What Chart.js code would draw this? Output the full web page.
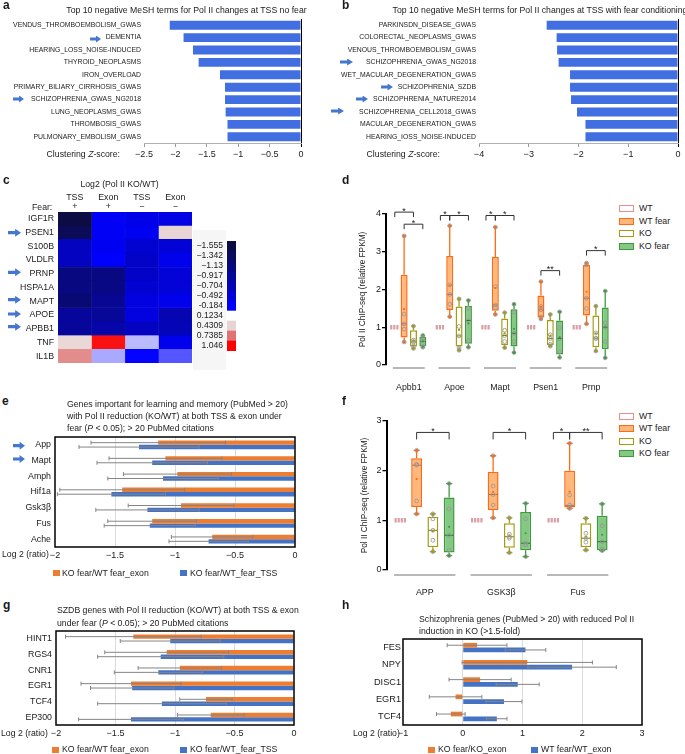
<!DOCTYPE html>
<html><head><meta charset="utf-8"><title>Figure</title>
<script src="https://cdn.jsdelivr.net/npm/chart.js@4.4.1/dist/chart.umd.min.js"></script>
<style>
html,body{margin:0;padding:0;background:#fff}
body{position:relative;width:685px;height:754px;overflow:hidden;font-family:"Liberation Sans",Arial,Helvetica,sans-serif;color:#1a1a1a}
canvas{position:absolute}
.t{position:absolute;white-space:nowrap}
.arr{position:absolute;background:#4677d0;clip-path:polygon(0 30%,55% 30%,55% 0,100% 50%,55% 100%,55% 70%,0 70%)}
.sq{position:absolute;box-sizing:border-box}
</style></head><body>
<script>
// ================= DATA =================
// Panel a
const aTerms = ['VENDUS_THROMBOEMBOLISM_GWAS','DEMENTIA','HEARING_LOSS_NOISE-INDUCED','THYROID_NEOPLASMS','IRON_OVERLOAD','PRIMARY_BILIARY_CIRRHOSIS_GWAS','SCHIZOPHRENIA_GWAS_NG2018','LUNG_NEOPLASMS_GWAS','THROMBOSIS_GWAS','PULMONARY_EMBOLISM_GWAS'];
const aZ = [-2.09,-1.87,-1.72,-1.63,-1.29,-1.21,-1.21,-1.20,-1.17,-1.17];
const aTicks = [-2.5,-2,-1.5,-1,-0.5,0];
// Panel b
const bTerms = ['PARKINSDN_DISEASE_GWAS','COLORECTAL_NEOPLASMS_GWAS','VENOUS_THROMBOEMBOLISM_GWAS','SCHIZOPHRENIA_GWAS_NG2018','WET_MACULAR_DEGENERATION_GWAS','SCHIZOPHRENIA_SZDB','SCHIZOPHRENIA_NATURE2014','SCHIZOPHRENIA_CELL2018_GWAS','MACULAR_DEGENERATION_GWAS','HEARING_IOSS_NOISE-INDUCED'];
const bZ = [-2.64,-2.44,-2.43,-2.40,-2.17,-2.17,-2.15,-2.03,-1.86,-1.86];
const bTicks = [-4,-3,-2,-1,0];
// Panel c (heatmap, log2 Pol II KO/WT)
const cGenes = ['IGF1R','PSEN1','S100B','VLDLR','PRNP','HSPA1A','MAPT','APOE','APBB1','TNF','IL1B'];
const cColumns = [['TSS','+'],['Exon','+'],['TSS','\u2212'],['Exon','\u2212']];
const cTssFear    = [-1.55,-1.40,-0.64,-0.64,-1.10,-1.10,-1.20,-0.90,-0.92, 0.40, 0.66];
const cExonFear   = [-0.25,-0.25,-0.28,-0.20,-1.10,-1.07,-0.96,-0.93,-0.80, 1.00, 0.02];
const cTssNoFear  = [-0.35,-0.28,-0.52,-0.58,-0.58,-0.52,-0.40,-0.40,-0.64, 0.04,-0.18];
const cExonNoFear = [-0.38, 0.43,-0.47,-0.32,-0.47,-0.47,-0.32,-0.75,-0.70,-0.32,-0.08];
const cScaleLabels = ['\u22121.555','\u22121.342','\u22121.13','\u22120.917','\u22120.704','\u22120.492','-0.184','0.1234','0.4309','0.7385','1.046'];
// Panel d  (box = [min, q1, median, q3, max])
const dGenes = ['Apbb1','Apoe','Mapt','Psen1','Prnp'];
const dWtBox = [[1,1,1,1,1],[1,1,1,1,1],[1,1,1,1,1],[1,1,1,1,1],[1,1,1,1,1]];
const dWtFearBox = [[0.61,0.73,1.09,2.39,3.42],[1.28,1.46,1.87,2.89,3.69],[1.34,1.44,1.59,2.86,3.65],[1.22,1.26,1.46,1.84,2.21],[1.09,1.31,1.77,2.65,2.70]];
const dWtFearPts = [[3.42,1.35,1.09,0.95,0.61],[3.69,2.12,1.87,1.61,1.28],[3.65,2.08,1.59,1.52,1.34],[2.21,1.55,1.46,1.27,1.22],[2.70,2.65,1.77,1.50,1.09]];
const dWtFearMean = [1.48,2.11,2.04,1.54,1.94];
const dKoBox = [[0.44,0.49,0.61,0.92,1.03],[0.39,0.49,0.77,1.55,1.75],[0.46,0.52,0.78,1.23,1.39],[0.50,0.53,0.70,1.19,1.34],[0.37,0.47,0.71,1.31,1.56]];
const dKoPts = [[1.03,0.66,0.61,0.50,0.44],[1.75,1.02,0.77,0.45,0.39],[1.39,0.92,0.78,0.62,0.46],[1.34,0.80,0.70,0.55,0.50],[1.56,0.85,0.71,0.70,0.37]];
const dKoMean = [0.65,0.93,0.84,0.78,0.84];
const dKoFearBox = [[0.47,0.50,0.62,0.75,0.79],[0.47,0.56,1.18,1.57,1.71],[0.33,0.49,0.84,1.48,1.61],[0.20,0.28,0.70,1.18,1.41],[0.19,0.42,1.00,1.52,1.96]];
const dKoFearPts = [[0.78,0.73,0.65,0.50,0.47],[1.71,1.50,1.18,0.65,0.47],[1.61,1.40,0.84,0.62,0.33],[1.41,0.98,0.70,0.35,0.20],[1.96,1.12,1.00,0.62,0.19]];
const dKoFearMean = [0.63,1.10,0.96,0.73,1.00];
// significance: [category, groupA, groupB, y, label]
const dSig = [[0,0,2,4.05,'*'],[0,1,3,3.73,'*'],[1,0,1,3.96,'*'],[1,1,3,3.96,'*'],[2,0,1,3.96,'*'],[2,1,3,3.96,'*'],[3,1,3,2.50,'**'],[4,1,3,3.03,'*']];
// Panel e
const eGenes = ['App','Mapt','Amph','Hif1a','Gsk3\u03b2','Fus','Ache'];
const eExon = [-1.14,-1.08,-0.98,-1.44,-0.95,-1.19,-0.69];
const eExonErr = [0.56,0.47,0.45,0.52,0.44,0.37,0.34];
const eTss = [-1.30,-1.19,-1.10,-1.53,-1.23,-1.21,-0.72];
const eTssErr = [0.50,0.46,0.46,0.45,0.43,0.38,0.33];
const eTicks = [-2,-1.5,-1,-0.5,0];
// Panel f
const fGenes = ['APP','GSK3\u03b2','Fus'];
const fWtBox = [[1,1,1,1,1],[1,1,1,1,1],[1,1,1,1,1]];
const fWtFearBox = [[1.13,1.27,2.11,2.25,2.41],[1.05,1.21,1.52,1.98,2.30],[1.24,1.26,1.30,2.00,2.55]];
const fWtFearPts = [[2.41,2.13,2.11,1.39,1.13],[2.30,1.69,1.52,1.31,1.05],[2.55,1.51,1.31,1.26,1.24]];
const fWtFearMean = [1.83,1.57,1.58];
const fKoBox = [[0.37,0.46,0.80,1.07,1.13],[0.35,0.45,0.67,0.94,1.05],[0.40,0.46,0.64,0.94,1.04]];
const fKoPts = [[1.13,1.03,0.80,0.60,0.37],[1.05,0.72,0.67,0.64,0.35],[1.04,0.74,0.64,0.56,0.40]];
const fKoMean = [0.78,0.69,0.67];
const fKoFearBox = [[0.29,0.35,0.70,1.46,1.74],[0.27,0.40,0.54,1.17,1.34],[0.39,0.40,0.57,1.09,1.33]];
const fKoFearPts = [[1.74,1.23,0.70,0.40,0.29],[1.34,1.03,0.54,0.50,0.27],[1.33,0.89,0.57,0.42,0.39]];
const fKoFearMean = [0.87,0.74,0.71];
const fSig = [[0,1,3,2.77,'*'],[1,1,3,2.77,'*'],[2,0,1,2.77,'*'],[2,1,3,2.77,'**']];
// Panel g
const gGenes = ['HINT1','RGS4','CNR1','EGR1','TCF4','EP300'];
const gExon = [-1.35,-1.07,-0.96,-1.37,-0.74,-0.70];
const gExonErr = [0.57,0.52,0.35,0.42,0.22,0.28];
const gTss = [-1.04,-1.12,-1.14,-1.36,-1.11,-1.37];
const gTssErr = [0.42,0.53,0.37,0.35,0.54,0.44];
// Panel h
const hGenes = ['FES','NPY','DISC1','EGR1','TCF4'];
const hKo = [0.24,1.08,0.29,-0.12,-0.20];
const hKoErr = [0.50,1.09,0.52,0.44,0.24];
const hWt = [1.05,1.83,0.92,0.69,0.57];
const hWtErr = [0.34,0.74,0.36,0.30,0.17];
const hTicks = [-1,0,1,2,3];

// ================= HELPERS =================
const ORANGE='#ED7D31', BLUE='#4472C4', ZBLUE='#416ee0';
Chart.defaults.font.family='"Liberation Sans", Arial, Helvetica, sans-serif';
Chart.defaults.color='#1a1a1a';
Chart.defaults.animation=false;
Chart.defaults.plugins.legend.display=false;
Chart.defaults.plugins.tooltip.enabled=false;
Chart.defaults.events=[];
const base={responsive:false,maintainAspectRatio:false,devicePixelRatio:1,animation:false};
const noGrid={display:false,drawTicks:false};
const minus=v=>String(v).replace('-','\u2212');
const fixW=w=>s=>{s.width=w;s.paddingTop=0;s.paddingBottom=0;};
const fixH=h=>s=>{s.height=h;s.paddingLeft=0;s.paddingRight=0;};
function mk(x,y,w,h){const c=document.createElement('canvas');c.width=w;c.height=h;c.style.left=x+'px';c.style.top=y+'px';c.style.width=w+'px';c.style.height=h+'px';document.body.appendChild(c);return c;}
function T(x,y,html,o={}){
  const fs=o.fs||8.7, lh=o.lh||fs*1.25;
  const d=document.createElement('div');d.className='t';
  d.style.fontSize=fs+'px';d.style.lineHeight=lh+'px';d.innerHTML=html;d.style.top=(y-lh/2)+'px';
  if(o.align==='right'){d.style.right=(685-x)+'px';d.style.textAlign='right';}
  else if(o.align==='center'){d.style.left=x+'px';d.style.transform='translateX(-50%)';d.style.textAlign='center';}
  else d.style.left=x+'px';
  if(o.bold)d.style.fontWeight='bold';
  document.body.appendChild(d);return d;
}
function AR(x,y,w,h){const d=document.createElement('div');d.className='arr';d.style.cssText+=`left:${x}px;top:${y-h/2}px;width:${w}px;height:${h}px`;document.body.appendChild(d);}
function SQ(x,y,w,h,fill,border,bw){const d=document.createElement('div');d.className='sq';d.style.cssText+=`left:${x}px;top:${y}px;width:${w}px;height:${h}px;background:${fill};`+(border?`border:${bw}px solid ${border};`:'');document.body.appendChild(d);}

const heatStops=[[-1.555,[12,12,66]],[-0.184,[0,0,255]],[0.1234,[255,255,255]],[0.4309,[232,212,212]],[0.7385,[224,116,116]],[1.046,[255,0,0]]];
function heatColor(v){
  const s=heatStops;if(v<=s[0][0])return `rgb(${s[0][1]})`;
  for(let i=1;i<s.length;i++){if(v<=s[i][0]){const f=(v-s[i-1][0])/(s[i][0]-s[i-1][0]);const c=s[i-1][1].map((a,k)=>Math.round(a+(s[i][1][k]-a)*f));return `rgb(${c})`;}}
  return `rgb(${s[s.length-1][1]})`;
}

// ---- plugins ----
const errPlugin={id:'errs',afterDatasetsDraw(chart,args,opts){
  const ctx=chart.ctx,xs=chart.scales.x;
  chart.data.datasets.forEach((ds,i)=>{if(!ds.err)return;const meta=chart.getDatasetMeta(i);
    meta.data.forEach((el,j)=>{const v=ds.data[j],e=ds.err[j];const x1=xs.getPixelForValue(v-e),x2=xs.getPixelForValue(v+e),y=el.y;
      ctx.save();ctx.strokeStyle='#858585';ctx.lineWidth=1;ctx.beginPath();
      ctx.moveTo(x1,y);ctx.lineTo(x2,y);ctx.moveTo(x1,y-2);ctx.lineTo(x1,y+2);ctx.moveTo(x2,y-2);ctx.lineTo(x2,y+2);ctx.stroke();ctx.restore();});
  });
  const a=chart.chartArea;ctx.save();ctx.strokeStyle='#000';ctx.lineWidth=1.5;ctx.strokeRect(a.left,a.top,a.right-a.left,a.bottom-a.top);ctx.restore();
}};
const boxPlugin={id:'boxes',afterDatasetsDraw(chart,args,opts){
  const ctx=chart.ctx,ys=chart.scales.y,Y=v=>ys.getPixelForValue(v);
  const xs=chart.scales.x,cw=(xs.right-xs.left)/chart.data.labels.length;
  ctx.save();ctx.strokeStyle='#a0a0a0';ctx.lineWidth=1.5;
  chart.data.labels.forEach((l,j)=>{const cx=xs.getPixelForValue(j);const y=chart.chartArea.bottom+opts.ulOff;ctx.beginPath();ctx.moveTo(cx-cw*opts.ulFrac,y);ctx.lineTo(cx+cw*opts.ulFrac,y);ctx.stroke();});
  ctx.restore();
  chart.data.datasets.forEach((ds,i)=>{
    const meta=chart.getDatasetMeta(i);
    meta.data.forEach((el,j)=>{
      const x=el.x,w=el.width;ctx.save();
      if(ds.flat){ctx.strokeStyle=ds.flatColor;ctx.lineWidth=4.5;ctx.setLineDash([2.2,0.9]);ctx.beginPath();ctx.moveTo(x-w/2,Y(ds.box[j][2]));ctx.lineTo(x+w/2,Y(ds.box[j][2]));ctx.stroke();ctx.restore();return;}
      const [mn,q1,md,q3,mx]=ds.box[j];
      ctx.strokeStyle=ds.borderColor;ctx.lineWidth=1.3;ctx.beginPath();
      ctx.moveTo(x,Y(q3));ctx.lineTo(x,Y(mx));ctx.moveTo(x,Y(q1));ctx.lineTo(x,Y(mn));
      [mn,mx].forEach(v=>{ctx.moveTo(x-w*0.28,Y(v));ctx.lineTo(x+w*0.28,Y(v));});ctx.stroke();
      ctx.fillStyle=ds.borderColor;[mn,mx].forEach(v=>{ctx.beginPath();ctx.arc(x,Y(v),1.6,0,2*Math.PI);ctx.fill();});
      ctx.strokeStyle=ds.medianColor;ctx.lineWidth=1;ctx.beginPath();ctx.moveTo(x-w/2+1,Y(md));ctx.lineTo(x+w/2-1,Y(md));ctx.stroke();
      ctx.strokeStyle='rgba(150,150,150,0.95)';ctx.lineWidth=0.9;
      ds.pts[j].forEach(v=>{ctx.beginPath();ctx.arc(x,Y(v),1.9,0,2*Math.PI);ctx.stroke();});
      ctx.fillStyle=ds.borderColor;ctx.beginPath();ctx.arc(x,Y(ds.mean[j]),1.1,0,2*Math.PI);ctx.fill();
      ctx.restore();
    });
  });
  ctx.save();ctx.strokeStyle='#333';ctx.fillStyle='#1a1a1a';ctx.lineWidth=1;ctx.font='9px "Liberation Sans", Arial, sans-serif';ctx.textAlign='center';ctx.textBaseline='alphabetic';
  (opts.sig||[]).forEach(([c,a,b,v,lab])=>{const xa=chart.getDatasetMeta(a).data[c].x,xb=chart.getDatasetMeta(b).data[c].x,y=Y(v);
    ctx.beginPath();ctx.moveTo(xa,y+opts.drop);ctx.lineTo(xa,y);ctx.lineTo(xb,y);ctx.lineTo(xb,y+opts.drop);ctx.stroke();
    ctx.fillText(lab,(xa+xb)/2,y+1.5);});
  ctx.restore();
}};

// ================= PANELS a, b =================
function zChart(x,y,w,h,terms,vals,ticks,yw,padR){
  new Chart(mk(x,y,w,h),{type:'bar',
    data:{labels:terms,datasets:[{data:vals,backgroundColor:ZBLUE,barPercentage:0.72,categoryPercentage:1}]},
    options:{...base,indexAxis:'y',layout:{padding:{left:0,right:padR,top:19,bottom:0}},
      scales:{
        x:{type:'linear',min:ticks[0],max:ticks[ticks.length-1],afterBuildTicks:s=>{s.ticks=ticks.map(v=>({value:v}));},afterFit:fixH(h-143),
          ticks:{callback:v=>minus(v),font:{size:9},padding:2,color:'#1a1a1a',maxRotation:0},
          grid:{color:c=>(c.tick&&c.tick.value===0)?'#000':'rgba(0,0,0,0)',tickColor:c=>(c.tick&&c.tick.value===0)?'#000':'#9a9a9a',tickLength:4,lineWidth:1},
          border:{color:'#b0b0b0',width:1}},
        y:{afterFit:fixW(yw),grid:noGrid,border:{display:false},ticks:{font:{size:6.85},padding:3,color:'#1a1a1a',autoSkip:false}}
      }}});
}
zChart(0,0,320,165,aTerms,aZ,aTicks,144,19);
zChart(330,0,355,165,bTerms,bZ,bTicks,149,7);

// ================= PANEL c =================
const cMatrix=[cTssFear,cExonFear,cTssNoFear,cExonNoFear];
new Chart(mk(0,185,200,185),{type:'bar',
  data:{labels:cGenes,datasets:cMatrix.map(col=>({data:cGenes.map(()=>1),backgroundColor:ctx=>heatColor(col[ctx.dataIndex]),borderColor:ctx=>heatColor(col[ctx.dataIndex]),borderWidth:0.6,borderSkipped:false,barPercentage:1,categoryPercentage:1}))},
  options:{...base,indexAxis:'y',layout:{padding:{left:0,right:8,top:5,bottom:7}},
    scales:{
      x:{type:'linear',position:'top',stacked:true,min:0,max:4,afterBuildTicks:s=>{s.ticks=[0.5,1.5,2.5,3.5].map(v=>({value:v}));},
        ticks:{callback:(v,i)=>cColumns[i],font:{size:8.8,lineHeight:1.05},padding:1,color:'#1a1a1a',maxRotation:0,autoSkip:false},
        grid:noGrid,border:{display:false},afterFit:fixH(22)},
      y:{stacked:true,afterFit:fixW(58),grid:noGrid,border:{display:false},ticks:{font:{size:8.8},padding:4,color:'#1a1a1a',autoSkip:false}}
    }}});
// colour key
(function(){const d=document.createElement('div');d.style.cssText='position:absolute;left:193px;top:230px;width:33px;height:140px;background:#f6f6f6';document.body.appendChild(d);})();
new Chart(mk(190,236,46,120),{type:'bar',
  data:{labels:cScaleLabels,datasets:[{data:cScaleLabels.map(()=>1),backgroundColor:cScaleLabels.map(l=>heatColor(parseFloat(l.replace('\u2212','-')))),barPercentage:1,categoryPercentage:1,borderWidth:0}]},
  options:{...base,indexAxis:'y',layout:{padding:{left:0,right:0,top:5,bottom:5}},
    scales:{x:{display:false,min:0,max:1},y:{afterFit:fixW(37),grid:noGrid,border:{display:false},ticks:{font:{size:8.6},padding:4,color:'#1a1a1a',autoSkip:false}}}}});

// ================= PANELS d, f (box plots) =================
function boxChart(x,y,w,h,o){
  const mkBox=(label,box,pts,mean,stroke,fill,med,bp)=>({label,data:box.map(b=>[b[1],b[3]]),box,pts,mean,backgroundColor:fill,borderColor:stroke,borderWidth:1.5,borderSkipped:false,medianColor:med,barPercentage:bp,categoryPercentage:o.cp});
  const wt={label:'WT',data:o.wt.map(b=>[b[1],b[3]]),box:o.wt,flat:true,flatColor:'#d9a0a8',backgroundColor:'rgba(0,0,0,0)',borderWidth:0,barPercentage:o.wtBp,categoryPercentage:o.cp};
  new Chart(mk(x,y,w,h),{type:'bar',
    data:{labels:o.labels,datasets:[wt,
      mkBox('WT fear',o.wf,o.wfp,o.wfm,'#ff6a13','rgba(255,170,100,0.85)','rgba(150,90,60,0.75)',o.bp),
      mkBox('KO',o.ko,o.kop,o.kom,'#a39b12','#ffffff','#7d7712',o.bp),
      mkBox('KO fear',o.kf,o.kfp,o.kfm,'#3d9b3d','rgba(110,190,110,0.85)','#2a6e2a',o.bp)]},
    options:{...base,layout:{padding:{left:0,right:o.padR,top:o.padT,bottom:0}},
      plugins:{boxes:{sig:o.sig,ulFrac:o.ulFrac,ulOff:o.ulOff,drop:o.drop}},
      scales:{
        x:{afterFit:fixH(30),grid:noGrid,border:{display:false},ticks:{font:{size:8.8},padding:o.xpad,color:'#1a1a1a',maxRotation:0}},
        y:{min:0,max:o.ymax,afterFit:fixW(o.yw),ticks:{stepSize:1,font:{size:9},padding:1,color:'#1a1a1a'},
          grid:{drawOnChartArea:false,tickLength:4,color:'#000',lineWidth:1.3},border:{color:'#000',width:2},
          title:{display:true,text:'Pol II ChIP-seq (relative FPKM)',font:{size:8.3},color:'#1a1a1a',padding:{top:o.tpad,bottom:0}}}
      }},
    plugins:[boxPlugin]});
}
boxChart(340,195,278,200,{labels:dGenes,wt:dWtBox,wf:dWtFearBox,wfp:dWtFearPts,wfm:dWtFearMean,ko:dKoBox,kop:dKoPts,kom:dKoMean,kf:dKoFearBox,kfp:dKoFearPts,kfm:dKoFearMean,
  cp:0.82,bp:0.75,wtBp:1,padR:4,padT:19,yw:46,ymax:4,sig:dSig,ulFrac:0.35,ulOff:3,drop:5,xpad:17,tpad:18});
boxChart(340,405,276,195,{labels:fGenes,wt:fWtBox,wf:fWtFearBox,wfp:fWtFearPts,wfm:fWtFearMean,ko:fKoBox,kop:fKoPts,kom:fKoMean,kf:fKoFearBox,kfp:fKoFearPts,kfm:fKoFearMean,
  cp:0.85,bp:0.67,wtBp:0.72,padR:0,padT:16,yw:46.5,ymax:3,sig:fSig,ulFrac:0.4,ulOff:5,drop:7,xpad:17,tpad:20});

// ================= PANELS e, g, h =================
function errChart(x,y,w,h,o){
  new Chart(mk(x,y,w,h),{type:'bar',
    data:{labels:o.labels,datasets:[
      {data:o.v1,err:o.e1,backgroundColor:ORANGE,barPercentage:1,categoryPercentage:o.cp},
      {data:o.v2,err:o.e2,backgroundColor:BLUE,barPercentage:1,categoryPercentage:o.cp}]},
    options:{...base,indexAxis:'y',layout:{padding:{left:0,right:o.padR,top:o.padT,bottom:0}},
      scales:{
        x:{type:'linear',min:o.ticks[0],max:o.ticks[o.ticks.length-1],afterBuildTicks:s=>{s.ticks=o.ticks.map(v=>({value:v}));},afterFit:fixH(18),
          ticks:{callback:v=>minus(v),font:{size:9},padding:3,color:'#1a1a1a',maxRotation:0},
          grid:{color:c=>(c.tick&&o.grid.includes(c.tick.value))?'#dcdcdc':'rgba(0,0,0,0)',drawTicks:false,lineWidth:1},border:{display:false}},
        y:{afterFit:fixW(o.yw),grid:noGrid,border:{display:false},ticks:{font:{size:o.fs},padding:o.ypad,color:'#1a1a1a',autoSkip:false}}
      }},
    plugins:[errPlugin]});
}
errChart(0,430,300,135,{labels:eGenes,v1:eExon,e1:eExonErr,v2:eTss,e2:eTssErr,cp:0.56,padR:5,padT:7,ticks:eTicks,grid:[-1.5,-1,-0.5],yw:55,fs:8.8,ypad:4});
errChart(0,625,300,118,{labels:gGenes,v1:gExon,e1:gExonErr,v2:gTss,e2:gTssErr,cp:0.56,padR:6,padT:6,ticks:eTicks,grid:[-1.5,-1,-0.5],yw:56,fs:8.8,ypad:4});
errChart(340,635,305,108,{labels:hGenes,v1:hKo,e1:hKoErr,v2:hWt,e2:hWtErr,cp:0.55,padR:3,padT:4,ticks:hTicks,grid:[0,1,2],yw:63,fs:9.2,ypad:2});

// ================= TEXT, ARROWS, LEGENDS =================
[['a',3,5],['b',342,5],['c',3,180],['d',342,180],['e',2,401],['f',342,401],['g',3,605],['h',342,605]].forEach(([l,x,y])=>T(x,y,l,{bold:true,fs:12}));
T(186.5,10,'Top 10 negative MeSH terms for Pol II changes at TSS no fear',{align:'center'});
T(540,10,'Top 10 negative MeSH terms for Pol II changes at TSS with fear conditioning',{align:'center'});
T(120,154,'Clustering <i>Z</i>-score:',{align:'right'});
T(440,154,'Clustering <i>Z</i>-score:',{align:'right'});
AR(90,39,11,7);AR(13,99,11,7);
AR(340,62,13,7);AR(381,87,12,7);AR(356,99,12,7);AR(331,111,13,7);
T(119.5,184,'Log2 (Pol II KO/WT)',{align:'center'});
T(32,207,'Fear:');
[232.7,272.3,299.7,314,326.7].forEach(y=>AR(8,y,13,8));
T(67,405,'Genes important for learning and memory (PubMed &gt; 20)<br>with Pol II reduction (KO/WT) at both TSS &amp; exon under<br>fear (<i>P</i> &lt; 0.05); &gt; 20 PubMed citations',{lh:11.7});
AR(13,445.7,12,8);AR(13,459,12,8);
T(2,554,'Log 2 (ratio)');
SQ(53,570,6.5,6,ORANGE);T(62,573,'KO fear/WT fear_exon');
SQ(180,570,6.5,6,BLUE);T(190,573,'KO fear/WT_fear_TSS');
T(57,610.5,'SZDB genes with Pol II reduction (KO/WT) at both TSS &amp; exon<br>under fear (<i>P</i> &lt; 0.05); &gt; 20 PubMed citations',{lh:12.5});
T(1,733.7,'Log 2 (ratio)');
SQ(52,746.5,6.5,6,ORANGE);T(62,749.5,'KO fear/WT fear_exon');
SQ(180,746.5,6.5,6,BLUE);T(190,749.5,'KO fear/WT_fear_TSS');
T(419,619,'Schizophrenia genes (PubMed &gt; 20) with reduced Pol II<br>induction in KO (&gt;1.5-fold)',{lh:12});
T(353,733.7,'Log 2 (ratio)');
SQ(428,746.5,6.5,6,ORANGE);T(438,749.5,'KO fear/KO_exon');
SQ(531,746.5,6.5,6,BLUE);T(541,749.5,'WT fear/WT_exon');
function legendItems(y0,dy){
  [['WT','#f08c8c','#ffffff'],['WT fear','#ff6a13','rgba(255,170,100,0.85)'],['KO','#a39b12','#ffffff'],['KO fear','#3d9b3d','rgba(110,190,110,0.85)']].forEach(([l,s,f],i)=>{
    const y=y0+i*dy;SQ(619,y-3.5,14.5,7,f,s,1.5);T(639,y,l,{fs:8.8});});
}
legendItems(208.3,12.8);
legendItems(416.7,12.2);
</script></body></html>
